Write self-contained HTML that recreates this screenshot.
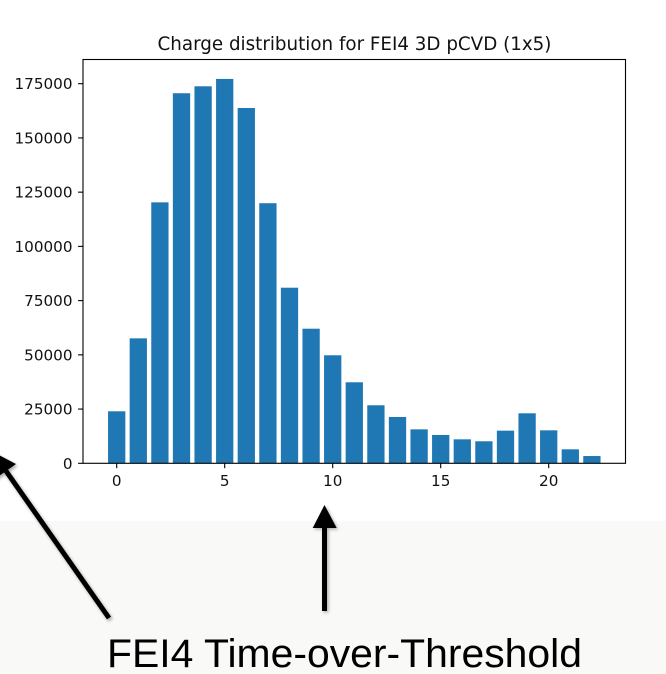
<!DOCTYPE html>
<html>
<head>
<meta charset="utf-8">
<style>
html,body{margin:0;padding:0;background:#fff;width:666px;height:674px;overflow:hidden}
svg{display:block}
text{font-family:"DejaVu Sans",sans-serif;fill:#111}
</style>
</head>
<body>
<svg id="chart" xmlns="http://www.w3.org/2000/svg" width="666" height="674" viewBox="0 0 666 674">
<defs>
<filter id="shadow" x="-30%" y="-30%" width="160%" height="160%"><feGaussianBlur stdDeviation="1.6"/></filter>
</defs>
<rect width="666" height="674" fill="#ffffff"/>
<rect x="0" y="521" width="666" height="153" fill="#f9f9f7"/>
<g id="bars"></g>
<g id="ticks"></g>
<rect x="83" y="59.5" width="542.5" height="403.8" fill="none" stroke="#000" stroke-width="1.1"/>
<text x="354.5" y="50" text-anchor="middle" font-size="18.3">Charge distribution for FEI4 3D pCVD (1x5)</text>
<g>
<g opacity="0.35" filter="url(#shadow)" transform="translate(1.5,2)">
<line x1="109" y1="618" x2="6" y2="471" stroke="#000" stroke-width="5"/>
<polygon points="-7,452 16,464 -4,478" fill="#000"/>
</g>
<line x1="109" y1="618" x2="6" y2="471" stroke="#000" stroke-width="5"/>
<polygon points="-7,452 16,464 -4,478" fill="#000"/>
</g>
<g>
<g opacity="0.3" filter="url(#shadow)" transform="translate(1.5,1.5)">
<line x1="324.5" y1="611" x2="324.5" y2="525" stroke="#000" stroke-width="5"/>
<polygon points="324.5,505 336.7,528 312.7,528" fill="#000"/>
</g>
<line x1="324.5" y1="611" x2="324.5" y2="525" stroke="#000" stroke-width="5"/>
<polygon points="324.5,505 336.7,528 312.7,528" fill="#000"/>
</g>
<text x="107" y="667" font-size="40" textLength="475" lengthAdjust="spacingAndGlyphs" style="font-family:'Liberation Sans',sans-serif;fill:#000">FEI4 Time-over-Threshold</text>
</svg>
<script>
const categories = [0,1,2,3,4,5,6,7,8,9,10,11,12,13,14,15,16,17,18,19,20,21,22];
const counts = [23970,57600,120300,170600,173800,177200,163800,119900,80950,62050,49800,37350,26750,21350,15650,13050,11050,10150,15050,23050,15200,6450,3350];
const xTickLabels = [0,5,10,15,20];
const yTickLabels = [0,25000,50000,75000,100000,125000,150000,175000];
const NS = 'http://www.w3.org/2000/svg';
const barWidth = 0.8;
function xScale(v){ return 116.7 + v * 21.6; }
function yScale(v){ return 463.3 - v * 379.6 / 175000; }
function mk(tag, attrs, parent){
  const el = document.createElementNS(NS, tag);
  for (const k in attrs) el.setAttribute(k, attrs[k]);
  parent.appendChild(el);
  return el;
}
const barsGroup = document.getElementById('bars');
const ticksGroup = document.getElementById('ticks');
categories.forEach(function(c, i){
  const el = mk('rect', {
    x: xScale(c - barWidth / 2), y: yScale(counts[i]),
    width: xScale(c + barWidth / 2) - xScale(c - barWidth / 2),
    height: yScale(0) - yScale(counts[i]), fill: '#1f77b4'
  }, barsGroup);
  
  
});
xTickLabels.forEach(function(v){
  const tick = mk('line', {x1: xScale(v), x2: xScale(v), y1: 463.3, y2: 468.2, stroke: '#000', 'stroke-width': 1.1}, ticksGroup);
  
  
  const label = mk('text', {x: xScale(v), y: 486, 'text-anchor': 'middle', 'font-size': 15.2}, ticksGroup);
  label.textContent = v;
  
  
});
yTickLabels.forEach(function(v){
  const tick = mk('line', {x1: 78.1, x2: 83, y1: yScale(v), y2: yScale(v), stroke: '#000', 'stroke-width': 1.1}, ticksGroup);
  
  
  const label = mk('text', {x: 72.5, y: yScale(v) + 5.5, 'text-anchor': 'end', 'font-size': 15.2}, ticksGroup);
  label.textContent = v;
  
  
});
</script>
</body>
</html>
